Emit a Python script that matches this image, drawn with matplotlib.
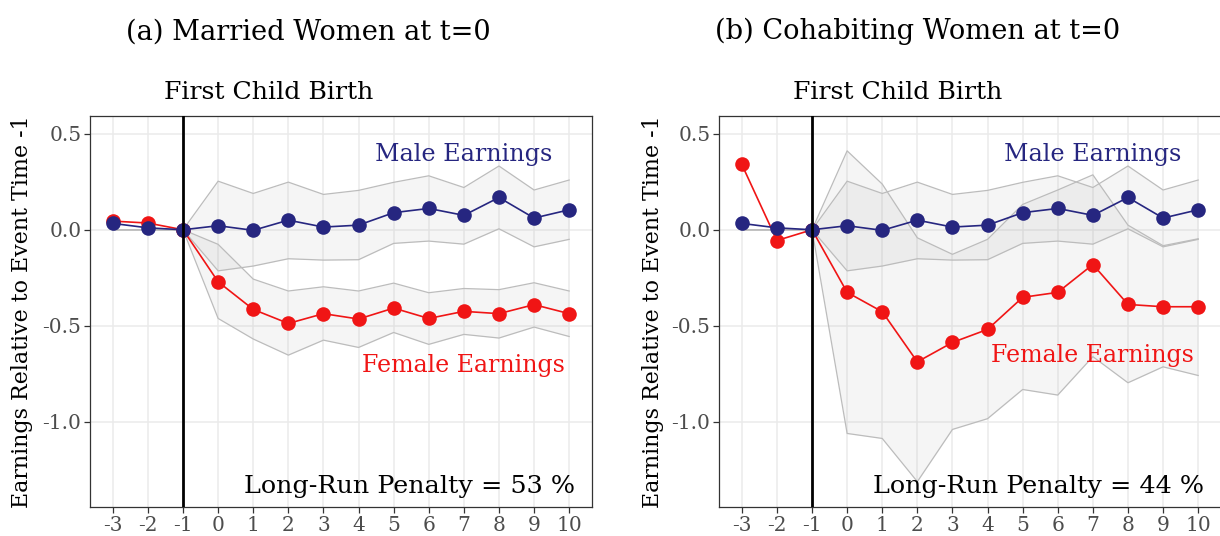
import matplotlib
matplotlib.use("Agg")
import matplotlib.pyplot as plt

plt.rcParams['font.family'] = ['DejaVu Serif']

event_time = [-3, -2, -1, 0, 1, 2, 3, 4, 5, 6, 7, 8, 9, 10]

male = [0.033, 0.010, 0.0, 0.021, -0.003, 0.050, 0.014, 0.024, 0.089, 0.111, 0.075, 0.168, 0.061, 0.104]
male_hi = [0.0, 0.0, 0.0, 0.253, 0.189, 0.248, 0.184, 0.205, 0.247, 0.281, 0.220, 0.332, 0.207, 0.259]
male_lo = [0.0, 0.0, 0.0, -0.214, -0.189, -0.151, -0.158, -0.156, -0.071, -0.059, -0.075, 0.005, -0.089, -0.050]

married_female = [0.045, 0.035, 0.0, -0.271, -0.415, -0.488, -0.437, -0.465, -0.408, -0.462, -0.425, -0.437, -0.390, -0.437]
married_hi = [0.0, 0.0, 0.0, -0.076, -0.257, -0.319, -0.297, -0.319, -0.278, -0.328, -0.306, -0.312, -0.276, -0.319]
married_lo = [0.0, 0.0, 0.0, -0.462, -0.569, -0.653, -0.575, -0.613, -0.535, -0.597, -0.545, -0.564, -0.507, -0.556]

cohab_female = [0.340, -0.056, 0.0, -0.326, -0.427, -0.688, -0.587, -0.519, -0.352, -0.326, -0.181, -0.389, -0.401, -0.401]
cohab_hi = [0.0, 0.0, 0.0, 0.411, 0.238, -0.042, -0.128, -0.050, 0.132, 0.207, 0.286, 0.024, -0.083, -0.047]
cohab_lo = [0.0, 0.0, 0.0, -1.061, -1.087, -1.312, -1.040, -0.984, -0.832, -0.861, -0.661, -0.797, -0.714, -0.759]

titles = ["(a) Married Women at t=0", "(b) Cohabiting Women at t=0"]
penalties = ["Long-Run Penalty = 53 %", "Long-Run Penalty = 44 %"]
female_label_y = [-0.739, -0.687]
y_ticks = [0.5, 0.0, -0.5, -1.0]
y_ticklabels = ["0.5", "0.0", "-0.5", "-1.0"]

NAVY = "#262680"
RED = "#f01515"
GRIDC = "#ebebeb"
BAND_EDGE = "#bcbcbc"

W, H = 1220, 536
fig = plt.figure(figsize=(W / 100, H / 100), dpi=100)

panels = [
    (90, married_female, married_hi, married_lo, 33),
    (719, cohab_female, cohab_hi, cohab_lo, 664),
]

for i, (left_px, fem, fhi, flo, ylab_px) in enumerate(panels):
    ax = fig.add_axes([left_px / W, (536 - 506.7) / H, 502 / W, 390.7 / H])
    ax.set_xlim(-3.65, 10.65)
    ax.set_ylim(-1.4425, 0.5925)

    ax.set_xticks(event_time)
    ax.set_xticklabels([str(t) for t in event_time])
    ax.set_yticks(y_ticks)
    ax.set_yticklabels(y_ticklabels)
    ax.grid(True, color=GRIDC, linewidth=1.1, zorder=0)
    ax.set_axisbelow(True)

    for sp in ax.spines.values():
        sp.set_color("#333333")
        sp.set_linewidth(0.9)
    ax.tick_params(axis='both', colors="#333333", length=4.2, width=0.9,
                   labelcolor="#4d4d4d", labelsize=14.5)
    ax.tick_params(axis='y', pad=2)
    ax.tick_params(axis='x', pad=2.5)

    # confidence ribbons
    ax.fill_between(event_time, male_lo, male_hi, color="#7f7f7f", alpha=0.07,
                    linewidth=0, zorder=1)
    ax.fill_between(event_time, flo, fhi, color="#7f7f7f", alpha=0.07,
                    linewidth=0, zorder=1)
    for arr in (male_hi, male_lo, fhi, flo):
        ax.plot(event_time, arr, color=BAND_EDGE, linewidth=0.9, zorder=2)

    # series
    ax.plot(event_time, fem, color=RED, linewidth=1.2, marker='o', markersize=10.5,
            markeredgewidth=0, zorder=3)
    ax.plot(event_time, male, color=NAVY, linewidth=1.2, marker='o', markersize=10.5,
            markeredgewidth=0, zorder=4)

    ax.axvline(-1, color="black", linewidth=2.0, zorder=5)

    ax.text(7, 0.358, "Male Earnings", color=NAVY, fontsize=17.2,
            ha='center', va='baseline', zorder=6)
    ax.text(7, female_label_y[i], "Female Earnings", color=RED, fontsize=17.1,
            ha='center', va='baseline', zorder=6)
    ax.text(10.17, -1.371, penalties[i], color="black", fontsize=18.3,
            ha='right', va='baseline', zorder=6)

    ax.text(1.45, 0.5925 + (116 - 99) / 192, "First Child Birth", color="black",
            fontsize=18.2, ha='center', va='baseline', clip_on=False)

    ax.set_ylabel("Earnings Relative to Event Time -1", fontsize=15.9, color="black")
    ax.yaxis.set_label_coords((ylab_px - left_px) / 502, 0.5)

    fig.text((308 + 610 * i) / W, 1 - 39.3 / H, titles[i], fontsize=19.6,
             ha='center', va='baseline')

fig.savefig("out.png", dpi=100)
